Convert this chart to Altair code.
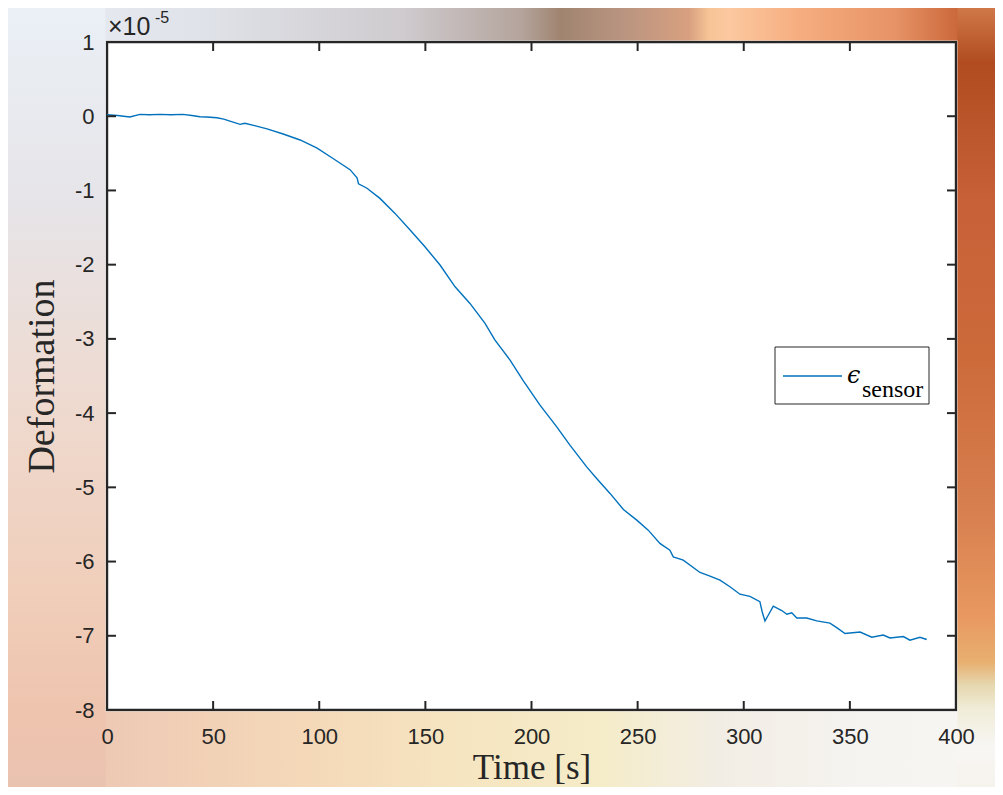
import altair as alt
import pandas as pd

# ---- data (deformation in units of 1e-5) ----
time_s = [0, 5, 10.8, 15.5, 20, 25, 30, 35.8, 40, 43.8, 47, 51.8, 55, 59.4, 62.7, 65, 70,
          75.4, 83, 91, 99, 106.5, 114.5, 117.8, 118.5, 122.5, 128.6, 135.7, 142.8, 149.8,
          156.9, 164.0, 171.0, 178.1, 182.8, 189.9, 196.0, 204.0, 211.9, 218.1, 226.0, 230.7,
          237.0, 243.3, 249.6, 255.0, 260.5, 265.2, 266.8, 271.5, 279.4, 284.1, 288.8, 293.5,
          298.2, 302.9, 307.6, 308.7, 310.0, 311.6, 313.9, 317.9, 320.3, 322.6, 325.0, 329.7,
          334.4, 340.6, 343.8, 347.7, 354.8, 360.3, 365.7, 368.9, 375.2, 378.3, 383.0, 386.2]
deformation = [0.02, 0.01, -0.01, 0.025, 0.02, 0.025, 0.02, 0.025, 0.01, -0.007, -0.01, -0.02,
               -0.04, -0.08, -0.11, -0.095, -0.13, -0.17, -0.24, -0.32, -0.43, -0.57, -0.72,
               -0.83, -0.91, -0.97, -1.107, -1.309, -1.534, -1.759, -2.005, -2.298, -2.522,
               -2.791, -3.016, -3.286, -3.56, -3.892, -4.185, -4.431, -4.724, -4.88, -5.082,
               -5.298, -5.442, -5.577, -5.756, -5.846, -5.937, -5.981, -6.147, -6.195, -6.25,
               -6.34, -6.44, -6.47, -6.54, -6.68, -6.80, -6.72, -6.60, -6.66, -6.71, -6.69,
               -6.76, -6.76, -6.80, -6.83, -6.89, -6.97, -6.95, -7.02, -6.99, -7.03, -7.01,
               -7.06, -7.02, -7.05]
x_ticks = [0, 50, 100, 150, 200, 250, 300, 350, 400]
y_ticks = [-8, -7, -6, -5, -4, -3, -2, -1, 0, 1]
legend_label = "sensor"

W, H = 849, 668
PL, PT, PR, PB = 99, 34, 39, 77
AX = "#262626"
BLUE = "#0072BD"

df = pd.DataFrame({"t": time_s, "d": deformation})
xt = pd.DataFrame({"t": x_ticks})
yt = pd.DataFrame({"d": y_ticks})
one = alt.Data(values=[{"k": 1}])

xs = alt.Scale(domain=[0, 400], nice=False, zero=False)
ys = alt.Scale(domain=[-8, 1], nice=False, zero=False)


def grad(stops, horizontal=True):
    return alt.Gradient(
        gradient="linear",
        stops=[alt.GradientStop(color=c, offset=o) for o, c in stops],
        x1=0, y1=0, x2=1 if horizontal else 0, y2=0 if horizontal else 1,
    )


top_strip = alt.Chart(one).mark_rect(fill=grad([
    (0.0, "#e9eef5"), (0.2, "#dfe2e8"), (0.4, "#cfcbcf"), (0.52, "#b4a49c"),
    (0.56, "#a08470"), (0.62, "#b89480"), (0.69, "#d8a080"), (0.71, "#f6c496"),
    (0.73, "#fcc8a0"), (0.8, "#f6ae80"), (0.9, "#e69266"), (0.96, "#cc6a3c"), (1.0, "#b04a1e")
])).encode(x=alt.value(-PL), x2=alt.value(W + PR), y=alt.value(-PT), y2=alt.value(-1.5))

bottom_strip = alt.Chart(one).mark_rect(fill=grad([
    (0.0, "#e8c2b0"), (0.15, "#f0cdb6"), (0.3, "#f4d8b8"), (0.45, "#f6e4c0"),
    (0.6, "#f5ecc8"), (0.72, "#f2ede4"), (0.85, "#f5f3ef"), (1.0, "#f8f6f2")
])).encode(x=alt.value(-PL), x2=alt.value(W + PR), y=alt.value(H + 1.5), y2=alt.value(H + PB))

left_strip = alt.Chart(one).mark_rect(fill=grad([
    (0.0, "#eaf0f6"), (0.25, "#e6e4e8"), (0.5, "#eedad0"), (0.75, "#f0ceba"),
    (0.9, "#eec4ae"), (1.0, "#eac2b0")
], horizontal=False)).encode(x=alt.value(-PL), x2=alt.value(-1.5), y=alt.value(-PT), y2=alt.value(H + PB))

right_strip = alt.Chart(one).mark_rect(fill=grad([
    (0.0, "#d07848"), (0.07, "#b04c20"), (0.25, "#c86038"), (0.45, "#cc6a3a"),
    (0.65, "#d88050"), (0.78, "#e89860"), (0.84, "#e8b070"), (0.87, "#e6d8b0"),
    (0.9, "#f0ecd8"), (0.95, "#f8f6f4"), (1.0, "#f6f2ec")
], horizontal=False)).encode(x=alt.value(W + 1.5), x2=alt.value(W + PR), y=alt.value(-PT), y2=alt.value(H + PB))

line = alt.Chart(df).mark_line(color=BLUE, strokeWidth=1.4, clip=True).encode(
    x=alt.X("t:Q", scale=xs, axis=alt.Axis(
        values=x_ticks, ticks=False, tickSize=0, domain=False, grid=False,
        labelExpr="'' + datum.value",
        labelFont="Liberation Sans", labelFontSize=22, labelColor=AX, labelPadding=16,
        labelFlush=False, title="Time [s]", titleFont="Liberation Serif", titleFontSize=35,
        titleFontWeight="normal", titleColor=AX, titleBaseline="alphabetic", titleY=68,
        zindex=1)),
    y=alt.Y("d:Q", scale=ys, axis=alt.Axis(
        values=y_ticks, ticks=False, tickSize=0, domain=False, grid=False,
        labelExpr="'' + datum.value",
        labelFont="Liberation Sans", labelFontSize=22, labelColor=AX, labelPadding=13,
        labelFlush=False, title="Deformation", titleFont="Liberation Serif", titleFontSize=38,
        titleFontWeight="normal", titleColor=AX, titleAngle=-90, titleAlign="center",
        titleBaseline="alphabetic", titleX=-54, titleY=H / 2, zindex=1)),
)

tick_style = dict(color=AX, strokeWidth=2)
xb = alt.Chart(xt).mark_rule(**tick_style).encode(x=alt.X("t:Q", scale=xs), y=alt.value(H), y2=alt.value(H - 9))
xtop = alt.Chart(xt).mark_rule(**tick_style).encode(x=alt.X("t:Q", scale=xs), y=alt.value(0), y2=alt.value(9))
yl = alt.Chart(yt).mark_rule(**tick_style).encode(y=alt.Y("d:Q", scale=ys), x=alt.value(0), x2=alt.value(9))
yr = alt.Chart(yt).mark_rule(**tick_style).encode(y=alt.Y("d:Q", scale=ys), x=alt.value(W), x2=alt.value(W - 9))

exp_base = alt.Chart(one).mark_text(text="×10", font="Liberation Sans", fontSize=25, color=AX,
                                    align="left", baseline="alphabetic").encode(
    x=alt.value(1), y=alt.value(-7))
exp_pow = alt.Chart(one).mark_text(text="-5", font="Liberation Sans", fontSize=16, color=AX,
                                   align="left", baseline="alphabetic").encode(
    x=alt.value(48), y=alt.value(-19))

leg_box = alt.Chart(one).mark_rect(fill="white", stroke=AX, strokeWidth=1).encode(
    x=alt.value(668), x2=alt.value(822), y=alt.value(305), y2=alt.value(362))
leg_line = alt.Chart(one).mark_rule(color=BLUE, strokeWidth=1.4).encode(
    x=alt.value(676), x2=alt.value(735), y=alt.value(334))
leg_eps = alt.Chart(one).mark_text(text="ϵ", font="DejaVu Serif", fontSize=24, fontStyle="italic",
                                   color="black", align="left", baseline="alphabetic").encode(
    x=alt.value(740), y=alt.value(341))
leg_sub = alt.Chart(one).mark_text(text=legend_label, font="Liberation Serif", fontSize=24,
                                   color="black", align="left", baseline="alphabetic").encode(
    x=alt.value(755), y=alt.value(355))

chart = alt.layer(
    top_strip, bottom_strip, left_strip, right_strip,
    line, xb, xtop, yl, yr, exp_base, exp_pow,
    leg_box, leg_line, leg_eps, leg_sub,
).properties(
    width=W, height=H,
    padding={"left": PL, "top": PT, "right": PR, "bottom": PB},
    autosize=alt.AutoSizeParams(type="none"),
    background="white",
).configure_view(fill="white", stroke=AX, strokeWidth=2.4)

chart.save("out.html", embed_options={"renderer": "svg", "actions": False})
